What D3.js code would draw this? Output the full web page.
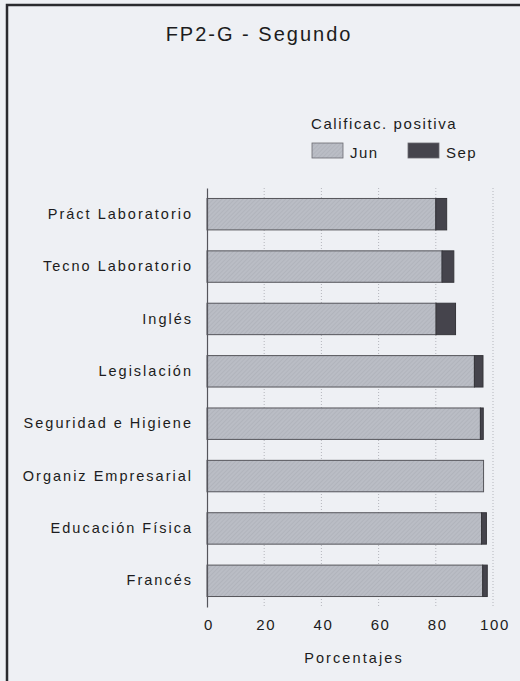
<!DOCTYPE html>
<html>
<head>
<meta charset="utf-8">
<script src="https://cdn.jsdelivr.net/npm/d3@7"></script>
<style>
    body { margin: 0; background: #eef0f4; }
    svg text { font-family: "Liberation Sans", Arial, sans-serif; fill: #1c1c20; }
</style>
</head>
<body>
<div id="chart"></div>
<script>
// chart values
const subjects = [
    "Práct Laboratorio",
    "Tecno Laboratorio",
    "Inglés",
    "Legislación",
    "Seguridad e Higiene",
    "Organiz Empresarial",
    "Educación Física",
    "Francés"
];
const junValues = [80, 82.2, 80.1, 93.5, 95.6, 96.7, 96, 96.4];
const sepValues = [3.8, 4.1, 6.8, 3, 1, 0, 1.7, 1.6];
const seriesNames = ["Jun", "Sep"];
const xTicks = [0, 20, 40, 60, 80, 100];

const colors = {
    jun: "#babdc5",
    sep: "#45444c",
    ink: "#1c1c20",
    grid: "#b4b6bc"
};

const width = 520;
const height = 681;
const margin = { top: 188, right: 27, bottom: 74, left: 207 };
const chartWidth = width - margin.left - margin.right;
const chartHeight = height - margin.top - margin.bottom;

const svg = d3.select("#chart").append("svg")
    .attr("width", width)
    .attr("height", height);

// diagonal hatching of the light bars
const pattern = svg.append("defs").append("pattern")
    .attr("id", "hatch")
    .attr("patternUnits", "userSpaceOnUse")
    .attr("width", 3)
    .attr("height", 3)
    .attr("patternTransform", "rotate(45)");
pattern.append("rect")
    .attr("width", 3).attr("height", 3)
    .attr("fill", colors.jun);
pattern.append("line")
    .attr("x1", 0).attr("y1", 0).attr("x2", 0).attr("y2", 3)
    .attr("stroke", "#a9acb4").attr("stroke-width", 1);

// frame round the figure
svg.append("rect")
    .attr("x", 7)
    .attr("y", 5)
    .attr("width", width + 10)
    .attr("height", height + 10)
    .attr("fill", "none")
    .attr("stroke", "#2a2a2e")
    .attr("stroke-width", 2.5);

svg.append("text")
    .attr("x", 259)
    .attr("y", 41)
    .attr("text-anchor", "middle")
    .style("font-size", "20px")
    .style("letter-spacing", "2px")
    .text("FP2-G - Segundo");

// legend
const legend = svg.append("g");
legend.append("text")
    .attr("x", 311)
    .attr("y", 129)
    .style("font-size", "15px")
    .style("letter-spacing", "1.6px")
    .text("Calificac. positiva");

const legendX = d3.scalePoint()
    .domain(seriesNames)
    .range([312, 408]);

seriesNames.forEach((name, i) => {
    legend.append("rect")
        .attr("x", legendX(name))
        .attr("y", 143)
        .attr("width", 31)
        .attr("height", 15)
        .attr("fill", i === 0 ? "url(#hatch)" : colors.sep)
        .attr("stroke", "#6a6a70")
        .attr("stroke-width", 0.8);
    legend.append("text")
        .attr("x", legendX(name) + 38)
        .attr("y", 158)
        .style("font-size", "15px")
        .style("letter-spacing", "1.5px")
        .text(name);
});

const chartGroup = svg.append("g")
    .attr("transform", `translate(${margin.left}, ${margin.top})`);

const x = d3.scaleLinear()
    .domain([0, 100])
    .range([0, chartWidth]);

const y = d3.scaleBand()
    .domain(subjects)
    .range([0, chartHeight])
    .paddingInner(0.4)
    .paddingOuter(0.2);

// dotted grid
chartGroup.append("g")
    .selectAll("line")
    .data(xTicks.slice(1))
    .join("line")
    .attr("x1", d => x(d))
    .attr("x2", d => x(d))
    .attr("y1", 0)
    .attr("y2", chartHeight)
    .attr("stroke", colors.grid)
    .attr("stroke-width", 1)
    .attr("stroke-dasharray", "1,2");

const rows = subjects.map((s, i) => ({ subject: s, jun: junValues[i], sep: sepValues[i] }));

chartGroup.append("g")
    .selectAll("rect")
    .data(rows)
    .join("rect")
    .attr("x", x(0))
    .attr("y", d => y(d.subject))
    .attr("width", d => x(d.jun) - x(0))
    .attr("height", y.bandwidth())
    .attr("fill", "url(#hatch)")
    .attr("stroke", "#55555b")
    .attr("stroke-width", 1);

chartGroup.append("g")
    .selectAll("rect")
    .data(rows.filter(d => d.sep > 0))
    .join("rect")
    .attr("x", d => x(d.jun))
    .attr("y", d => y(d.subject))
    .attr("width", d => x(d.jun + d.sep) - x(d.jun))
    .attr("height", y.bandwidth())
    .attr("fill", colors.sep)
    .attr("stroke", "#35353a")
    .attr("stroke-width", 1);

// axes
const xAxis = chartGroup.append("g")
    .attr("transform", `translate(0, ${chartHeight})`)
    .call(d3.axisBottom(x).tickValues(xTicks).tickSize(0).tickPadding(12));
xAxis.select(".domain").remove();
xAxis.selectAll("text")
    .style("font-size", "15px")
    .style("letter-spacing", "1.6px")
    .attr("dx", "0.1em")
    .attr("fill", colors.ink);

const yAxis = chartGroup.append("g")
    .call(d3.axisLeft(y).tickSize(0).tickPadding(14));
yAxis.select(".domain")
    .attr("stroke", "#55555b")
    .attr("stroke-width", 1.2);
yAxis.selectAll("text")
    .style("font-size", "14.5px")
    .style("letter-spacing", "2px")
    .attr("fill", colors.ink);

chartGroup.append("text")
    .attr("x", chartWidth / 2 + 4)
    .attr("y", chartHeight + 56)
    .attr("text-anchor", "middle")
    .style("font-size", "14.5px")
    .style("letter-spacing", "2.1px")
    .text("Porcentajes");
</script>
</body>
</html>
